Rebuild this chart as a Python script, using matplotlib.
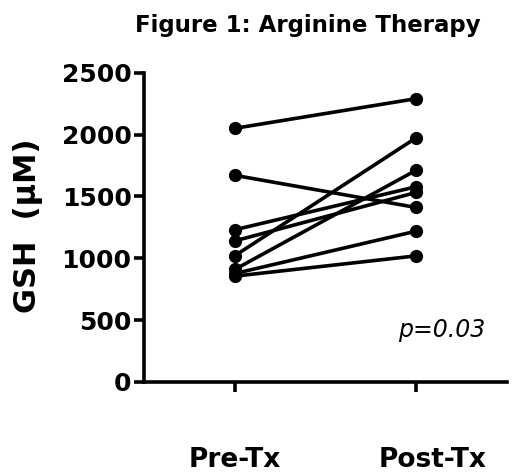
import matplotlib
matplotlib.use("Agg")
import matplotlib.pyplot as plt
import matplotlib.transforms as mtransforms

# GSH values (uM) for each patient, before and after arginine therapy
pre_tx = [2050, 1670, 1230, 1140, 1020, 909, 876, 855]
post_tx = [2290, 1410, 1578, 1532, 1974, 1712, 1219, 1019]
groups = ["Pre-Tx", "Post-Tx"]
y_ticks = [0, 500, 1000, 1500, 2000, 2500]

plt.rcParams['font.family'] = ['DejaVu Sans']

fig = plt.figure(figsize=(5.2, 4.75), dpi=100)
ax = fig.add_axes([0.277, 0.196, 0.698, 0.651])

for a, b in zip(pre_tx, post_tx):
    ax.plot([0, 1], [a, b], color='black', lw=2.6, marker='o', ms=8.5,
            solid_capstyle='round', zorder=3)

ax.set_xlim(-0.5, 1.5)
ax.set_ylim(0, 2500)
ax.set_yticks(y_ticks)
ax.set_yticklabels([str(t) for t in y_ticks], fontsize=18, fontweight='bold')
ax.set_xticks([0, 1])
ax.set_xticklabels(groups, fontsize=19, fontweight='bold')

for side in ['top', 'right']:
    ax.spines[side].set_visible(False)
for side in ['left', 'bottom']:
    ax.spines[side].set_linewidth(2.6)
ax.tick_params(axis='y', length=7, width=2.6, pad=2)
ax.tick_params(axis='x', length=7, width=2.6, pad=40)

# the Post-Tx label sits a bit right of its tick in the original
lbl = ax.get_xticklabels()[1]
lbl.set_transform(lbl.get_transform() +
                  mtransforms.ScaledTranslation(0.16, 0, fig.dpi_scale_trans))

ax.text(0.9, 362, "p=0.03", fontsize=17, style='italic', ha='left',
        va='baseline')

fig.text(308 / 520, 1 - 32 / 475, "Figure 1: Arginine Therapy",
         fontsize=16.5, fontweight='bold', ha='center', va='baseline')
fig.text(28 / 520, 1 - 226 / 475, "GSH  (\u03bcM)", fontsize=22,
         fontweight='bold', rotation=90, ha='center', va='center')

fig.savefig("out.png", dpi=100)
